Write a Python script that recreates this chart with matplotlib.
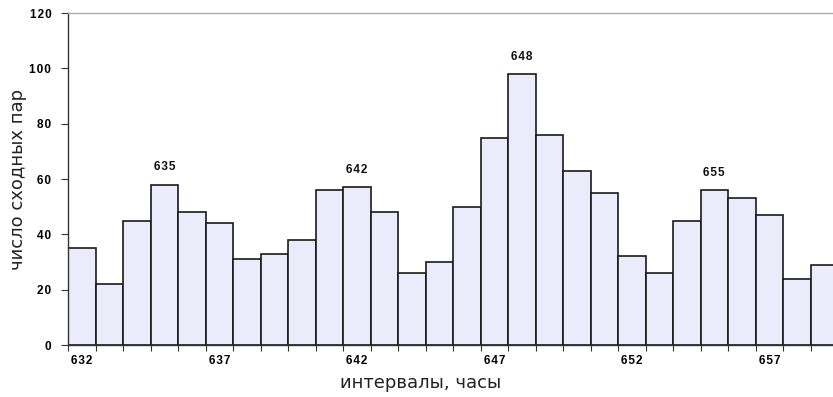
import matplotlib.pyplot as plt

# intervals (hours) and number of similar pairs
intervals = list(range(632, 660))
counts = [35, 22, 45, 58, 48, 44, 31, 33, 38, 56, 57, 48, 26, 30,
          50, 75, 98, 76, 63, 55, 32, 26, 45, 56, 53, 47, 24, 29]
peaks = [635, 642, 648, 655]
tick_labels = [632, 637, 642, 647, 652, 657]

plt.rcParams['font.family'] = ['DejaVu Sans']
num_font = ['Liberation Sans', 'DejaVu Sans']


def spaced(s):
    # the original draws numbers with slightly wide letter spacing
    return '\u200a'.join(str(s))


fig = plt.figure(figsize=(8.33, 3.97), dpi=100)
ax = fig.add_axes([68 / 833, 1 - 345 / 397, 770 / 833, 332 / 397])

pos = list(range(len(intervals)))
ax.bar(pos, counts, width=1.0, color='#ebebfc', edgecolor='#1a1a1a', linewidth=1.2)

# peak labels
for p in peaks:
    i = intervals.index(p)
    ax.text(i, counts[i] + 4, spaced(p), ha='center', va='bottom',
            fontsize=8.5, fontweight='bold', family=num_font, color='#111')

ax.set_xlim(-0.5, len(intervals) - 0.5)
ax.set_ylim(0, 120)

# tick marks on bar edges, labels under bar centres
ax.set_xticks([i - 0.5 for i in range(len(intervals) + 1)])
ax.set_xticklabels([])
ax.tick_params(axis='x', which='major', length=4, width=0.8, direction='out', color='#333')
ax.set_xticks([intervals.index(t) for t in tick_labels], minor=True)
ax.set_xticklabels([spaced(t) for t in tick_labels], minor=True,
                   fontsize=8.5, fontweight='bold', family=num_font)
ax.tick_params(axis='x', which='minor', length=0, pad=7)

ax.set_yticks(range(0, 121, 20))
ax.set_yticklabels([spaced(v) for v in range(0, 121, 20)],
                   fontsize=8.5, fontweight='bold', family=num_font)
ax.tick_params(axis='y', length=5, width=0.8, direction='out', pad=7, color='#333')

ax.spines['right'].set_visible(False)
ax.spines['top'].set_color('#aaaaaa')
ax.spines['top'].set_linewidth(1.0)
ax.spines['left'].set_color('#333333')
ax.spines['bottom'].set_color('#333333')
ax.spines['left'].set_linewidth(1.0)
ax.spines['bottom'].set_linewidth(1.0)

ax.set_xlabel('интервалы, часы', fontsize=13, color='#222')
ax.xaxis.set_label_coords(0.458, -0.088)
ax.set_ylabel('число сходных пар', fontsize=13, color='#222')
ax.yaxis.set_label_coords(-0.053, 0.5)

fig.savefig('out.png', dpi=100)
